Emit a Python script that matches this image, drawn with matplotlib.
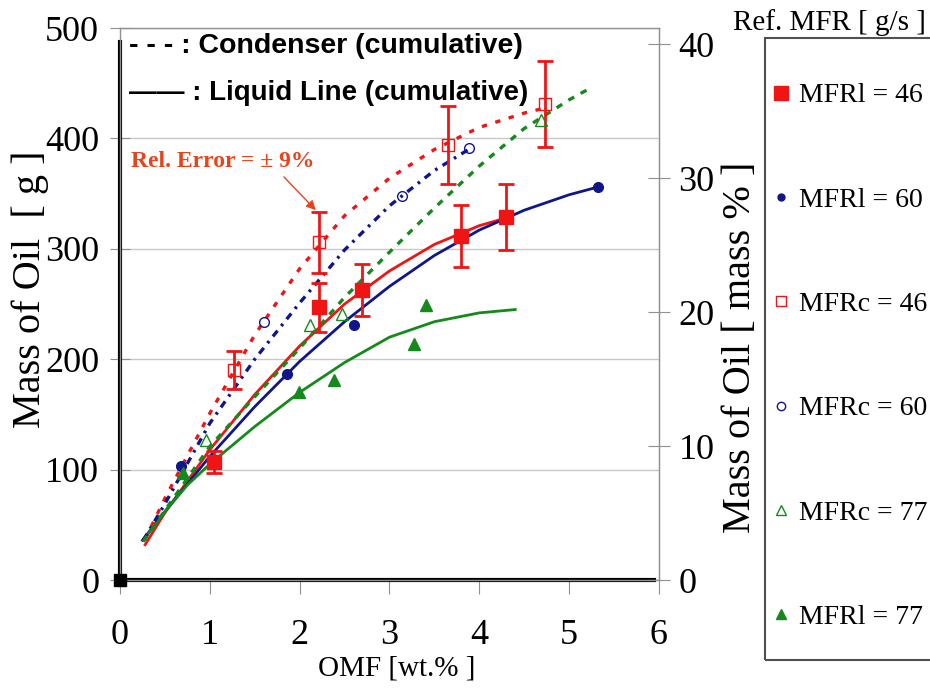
import numpy as np
import matplotlib
matplotlib.use('Agg')
import matplotlib.pyplot as plt
from matplotlib.lines import Line2D
from matplotlib.patches import Rectangle

plt.rcParams['font.family'] = ['Liberation Serif', 'DejaVu Serif']

# measured points (OMF [wt.%], mass of oil [g])
omf_l46 = [1.05, 2.21, 2.69, 3.80, 4.30]
oil_l46 = [107, 247, 263, 312, 329]
omf_c46 = [1.27, 2.21, 3.65, 4.73]
oil_c46 = [190, 306, 394, 431]
omf_l60 = [0.68, 1.86, 2.60, 5.32]
oil_l60 = [103, 187, 231, 356]
omf_c60 = [1.60, 3.14, 3.88]
oil_c60 = [234, 348, 391]
omf_c77 = [0.96, 2.12, 2.47, 4.69]
oil_c77 = [127, 231, 241, 417]
omf_l77 = [0.70, 1.99, 2.38, 3.27, 3.41]
oil_l77 = [97, 170, 181, 214, 249]
origin_x = [0]
origin_y = [0]
rel_err = 0.09

# trend curves
fit_x_l46 = [0.28, 0.5, 1.0, 1.5, 2.0, 2.5, 3.0, 3.5, 4.0, 4.3]
fit_y_l46 = [32, 61, 118, 168, 212, 250, 280, 304, 321, 328]
fit_x_l60 = [0.25, 0.5, 1.0, 1.5, 2.0, 2.5, 3.0, 3.5, 4.0, 4.5, 5.0, 5.32]
fit_y_l60 = [36, 62, 112, 157, 198, 234, 266, 294, 317, 335, 349, 356]
fit_x_l77 = [0.26, 0.5, 0.75, 1.0, 1.5, 2.0, 2.5, 3.0, 3.5, 4.0, 4.4]
fit_y_l77 = [36, 62, 86, 105, 139, 170, 197, 220, 234, 242, 245]
fit_x_c46 = [0.28, 0.5, 1.0, 1.5, 2.0, 2.5, 3.0, 3.5, 4.0, 4.5, 4.75]
fit_y_c46 = [37, 74, 151, 222, 282, 330, 364, 390, 410, 423, 428]
fit_x_c60 = [0.26, 0.5, 1.0, 1.5, 2.0, 2.5, 3.0, 3.5, 3.88]
fit_y_c60 = [36, 69, 142, 200, 251, 299, 339, 371, 390]
fit_x_c77 = [0.26, 0.5, 1.0, 1.5, 2.0, 2.5, 3.0, 3.5, 4.0, 4.5, 5.0, 5.2]
fit_y_c77 = [35, 63, 121, 166, 210, 256, 297, 337, 375, 409, 435, 444]

legend_labels = ['MFRl = 46', 'MFRl = 60', 'MFRc = 46', 'MFRc = 60', 'MFRc = 77', 'MFRl = 77']

red = '#f01414'
blue = '#10168a'
green = '#15891c'
err_col = '#e8441c'

fig = plt.figure(figsize=(9.3, 6.91), dpi=100)
ax = fig.add_axes([0.129, 0.1606, 0.5796, 0.7988])
ax.set_xlim(0, 6)
ax.set_ylim(0, 500)

ax.yaxis.grid(True, color='#c8c8c8', lw=1)
ax.set_axisbelow(True)
for s in ['top', 'right', 'left', 'bottom']:
    ax.spines[s].set_color('#909090')
    ax.spines[s].set_linewidth(1)
ax.axvline(0, ymin=0, ymax=0.975, color='k', lw=3, clip_on=False)
ax.axhline(0, xmin=0, xmax=0.99, color='k', lw=3, clip_on=False)

# trend lines
ax.plot(fit_x_l46, fit_y_l46, color=red, lw=2)
ax.plot(fit_x_l60, fit_y_l60, color=blue, lw=2)
ax.plot(fit_x_l77, fit_y_l77, color=green, lw=2)
ax.plot(fit_x_c46, fit_y_c46, color=red, lw=2.4, ls=(0, (1.6, 2.6)))
ax.plot(fit_x_c60, fit_y_c60, color=blue, lw=2.4, ls=(0, (2.2, 1.8, 0.8, 1.8)))
ax.plot(fit_x_c77, fit_y_c77, color=green, lw=2.4, ls=(0, (2.0, 2.2)))

# error bars
ax.errorbar(omf_l46, oil_l46, yerr=rel_err * np.array(oil_l46), fmt='none',
            ecolor=red, elinewidth=2, capsize=6, capthick=2, zorder=4)
ax.errorbar(omf_c46, oil_c46, yerr=rel_err * np.array(oil_c46), fmt='none',
            ecolor=red, elinewidth=2, capsize=6, capthick=2, zorder=4)

# markers
ax.plot(omf_l46, oil_l46, ls='none', marker='s', ms=10, color=red, zorder=5)
ax.plot(omf_l60, oil_l60, ls='none', marker='o', ms=7, color=blue, zorder=5)
ax.plot(omf_c46, oil_c46, ls='none', marker='s', ms=8, mfc='none', mec=red, mew=1, zorder=5)
ax.plot(omf_c60, oil_c60, ls='none', marker='o', ms=7, mfc='none', mec=blue, mew=1, zorder=5)
ax.plot(omf_c77, oil_c77, ls='none', marker='^', ms=8, mfc='none', mec=green, mew=1, zorder=5)
ax.plot(omf_l77, oil_l77, ls='none', marker='^', ms=8, color=green, zorder=5)
ax.plot(origin_x, origin_y, ls='none', marker='s', ms=9, color='k', zorder=6, clip_on=False)

ax.set_xticks(range(0, 7))
ax.set_yticks(range(0, 501, 100))
ax.tick_params(axis='x', direction='out', length=10, color='#909090', labelsize=26, pad=18)
ax.tick_params(axis='y', direction='inout', length=14, color='#909090', labelsize=26, pad=8)

ax2 = ax.twinx()
ax2.set_ylim(0, 41.2)
ax2.set_yticks([0, 10, 20, 30, 40])
for s in ['top', 'right', 'left', 'bottom']:
    ax2.spines[s].set_visible(False)
ax2.spines['right'].set_visible(True)
ax2.spines['right'].set_color('#909090')
ax2.tick_params(axis='y', direction='inout', length=16, color='#909090', labelsize=26, pad=6)

# annotations
ax.text(0.1, 484, '- - - : Condenser (cumulative)', family='Liberation Sans',
        weight='bold', fontsize=20.5, va='center')
ax.text(0.1, 441, '\u2014\u2014 : Liquid Line (cumulative)', family='Liberation Sans',
        weight='bold', fontsize=20, va='center')
ax.annotate('Rel. Error = \u00b1 9%', xy=(2.18, 335), xytext=(0.12, 379),
            fontsize=17, weight='bold', color=err_col, va='center',
            arrowprops=dict(arrowstyle='-|>', color=err_col, lw=1, relpos=(0.81, 0),
                            shrinkA=2, shrinkB=0, mutation_scale=14))

fig.text(0.032, 0.582, 'Mass of Oil  [ g ]', rotation=90, fontsize=29, ha='center', va='center')
fig.text(0.796, 0.498, 'Mass of Oil [ mass % ]', rotation=90, fontsize=29, ha='center', va='center')
fig.text(0.427, 0.033, 'OMF [wt.% ]', fontsize=21, ha='center', va='center')
fig.text(0.788, 0.968, 'Ref. MFR [ g/s ]', fontsize=21, ha='left', va='center')

# legend box
fig.patches.append(Rectangle((0.8226, 0.0449), 0.3, 0.9001, transform=fig.transFigure,
                             fill=False, edgecolor='#505050', lw=1.5))
handles = [
    Line2D([], [], ls='none', marker='s', ms=10, color=red),
    Line2D([], [], ls='none', marker='o', ms=5, color=blue),
    Line2D([], [], ls='none', marker='s', ms=7, mfc='none', mec=red, mew=1),
    Line2D([], [], ls='none', marker='o', ms=6, mfc='none', mec=blue, mew=1),
    Line2D([], [], ls='none', marker='^', ms=7, mfc='none', mec=green, mew=1),
    Line2D([], [], ls='none', marker='^', ms=7, color=green),
]
fig.legend(handles, legend_labels, loc='upper left', bbox_to_anchor=(0.829, 0.88),
           frameon=False, fontsize=20, labelspacing=2.84, handlelength=0.7,
           handletextpad=0.3, borderpad=0, borderaxespad=0)

fig.savefig('out.png', dpi=100)
